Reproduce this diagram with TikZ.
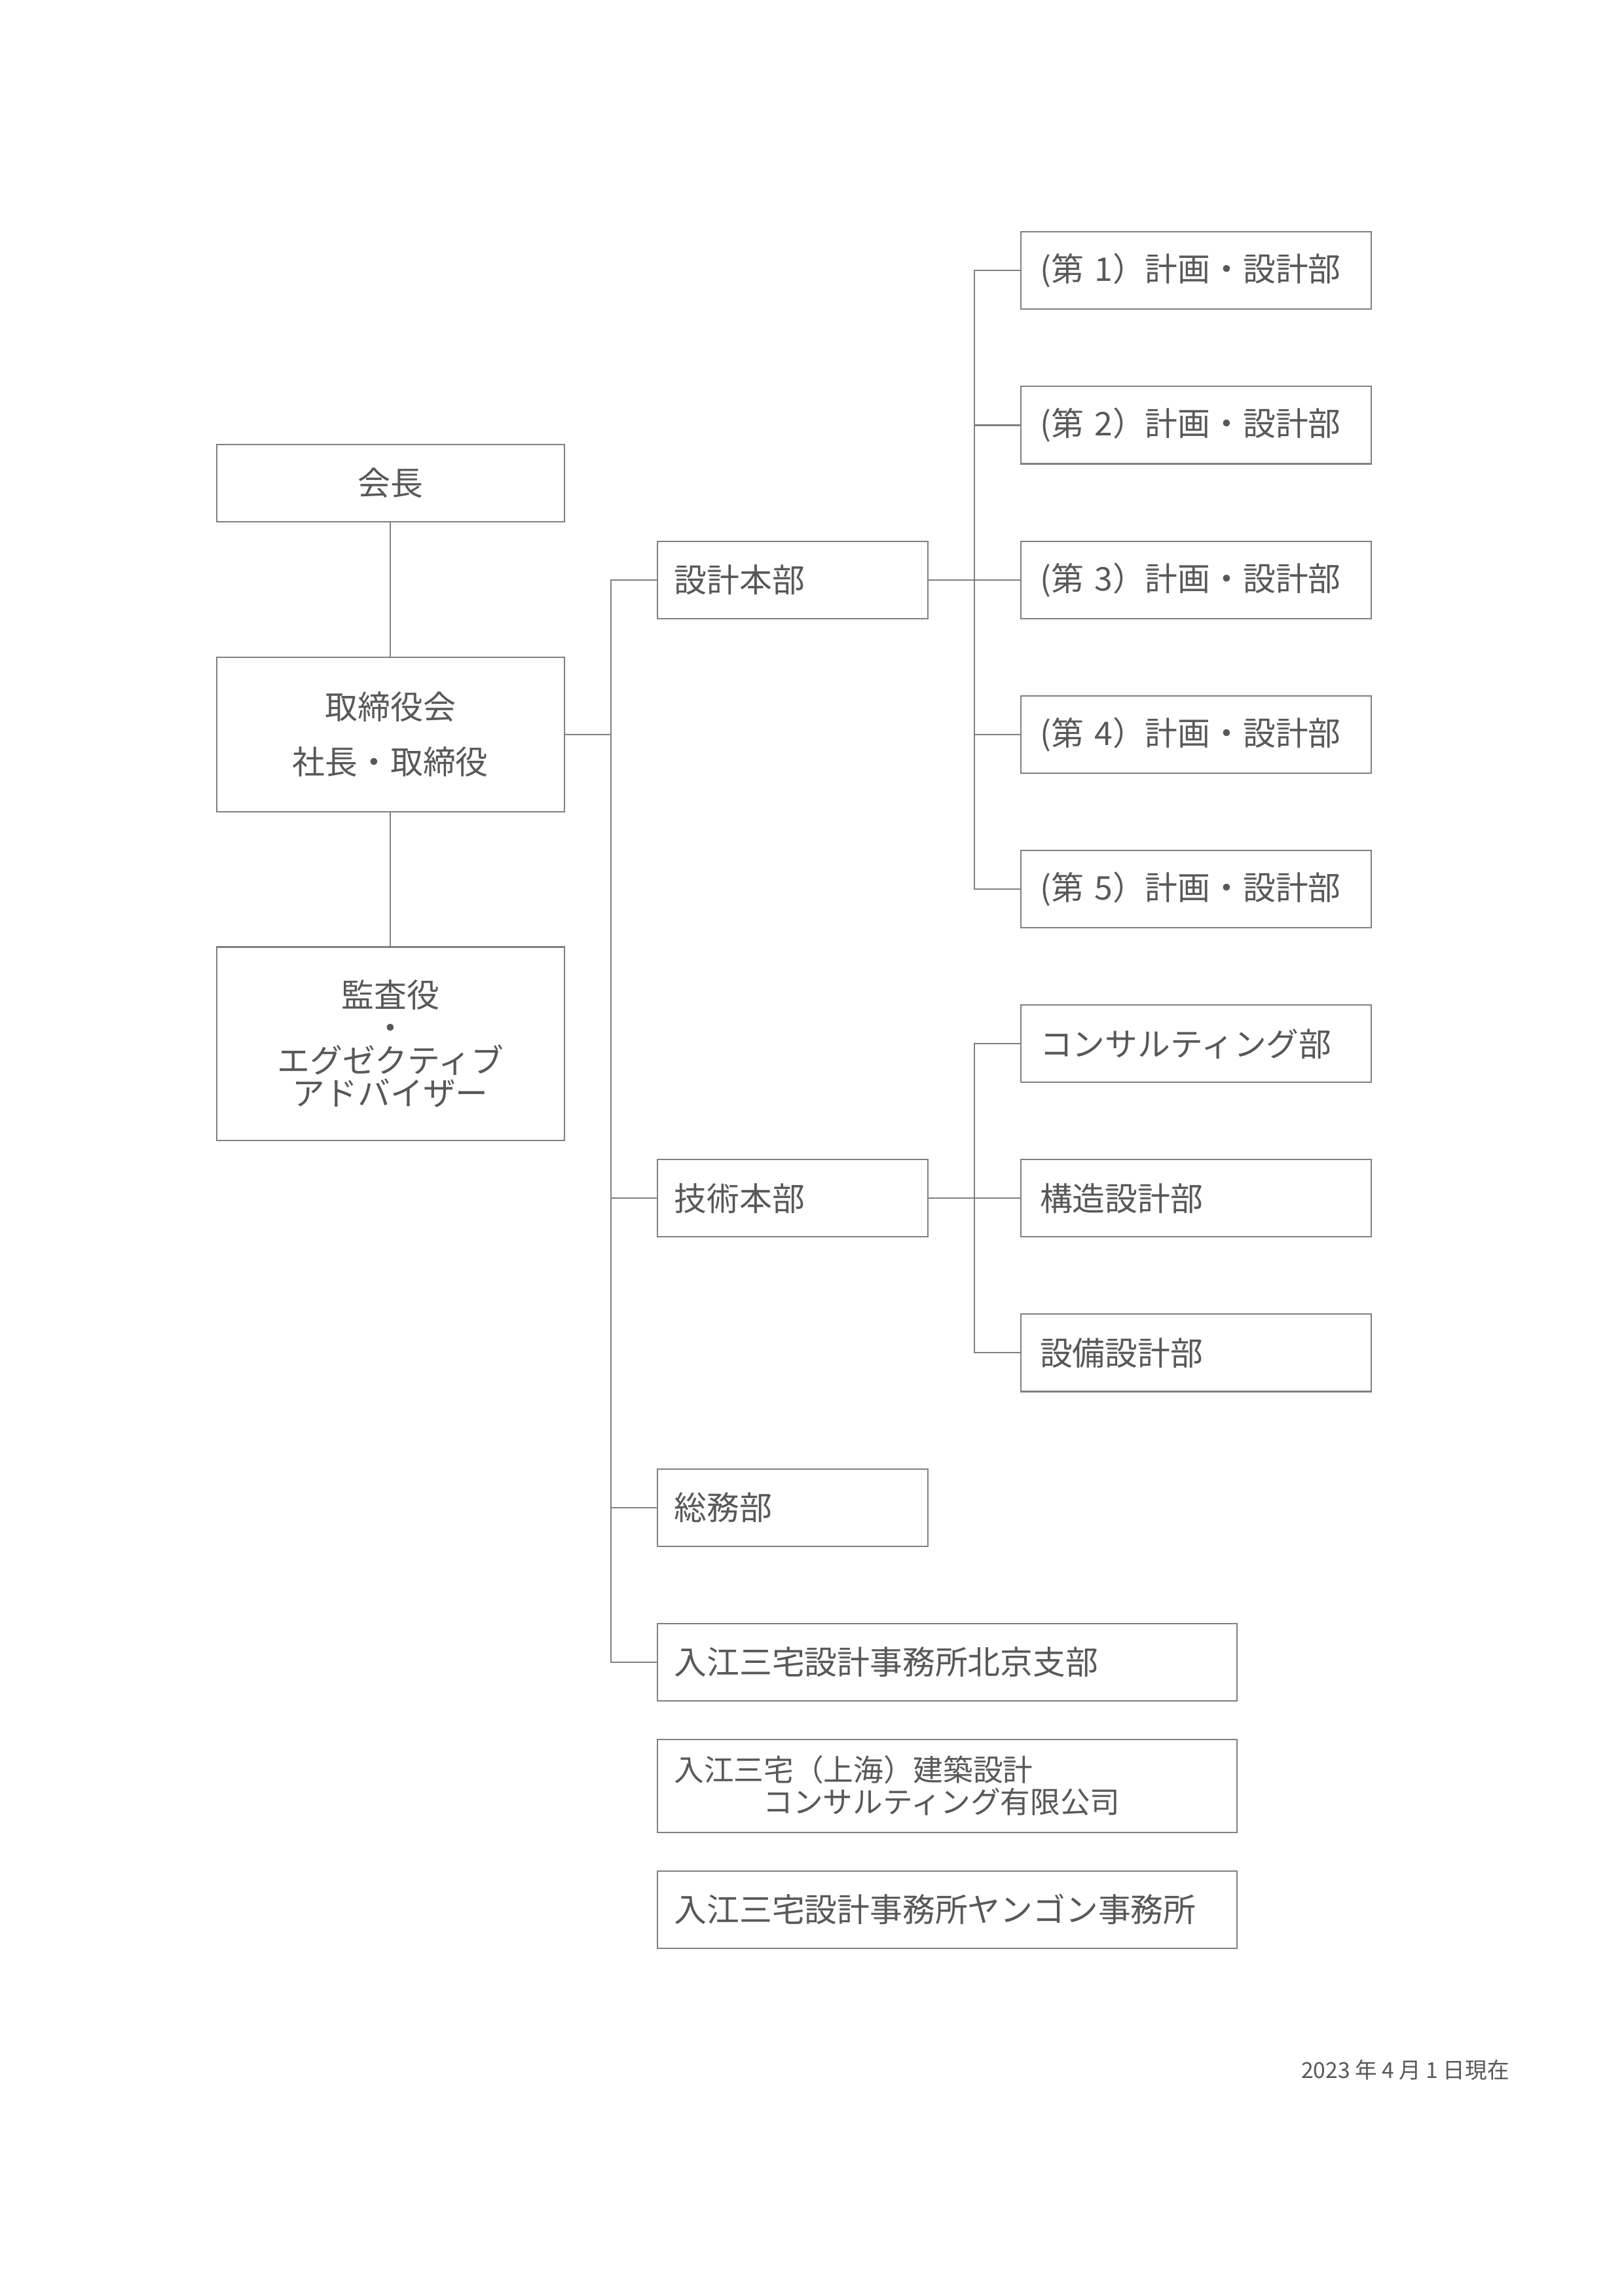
\documentclass[tikz,border=0pt]{standalone}
\usepackage{fontspec}
\setmainfont{Noto Sans CJK JP}
\definecolor{txt}{HTML}{595757}
\definecolor{ln}{HTML}{808080}
\begin{document}
\begin{tikzpicture}[x=1mm,y=-1mm,
  every node/.style={text=txt, font=\fontsize{12}{12}\selectfont},
  box/.style={draw=ln, line width=0.5pt, inner xsep=1.8mm, inner ysep=0pt, minimum height=10mm},
  lbox/.style={box, text width=41.4mm, align=center},
  mbox/.style={box, inner xsep=2.2mm, text width=30.6mm, align=left},
  wbox/.style={box, inner xsep=2.2mm, text width=70.6mm, align=left},
  rbox/.style={box, inner xsep=2.5mm, text width=40.3mm, align=left},
  conn/.style={draw=ln, line width=0.5pt}]
\useasboundingbox[fill=white] (0,0) rectangle (210,297);

% left column
\node[lbox] (kaicho) at (50.5,62.5) {会長};
\node[lbox, minimum height=20mm] (tori) at (50.5,95) {取締役会\\[8.4pt]社長・取締役};
\node[lbox, minimum height=25mm] (kansa) at (50.5,135) {監査役\\・\\エグゼクティブ\\アドバイザー};

% middle column
\node[mbox] (sekkei) at (102.5,75) {設計本部};
\node[mbox] (gijutsu) at (102.5,155) {技術本部};
\node[mbox] (somu) at (102.5,195) {総務部};
\node[wbox] (pek) at (122.5,215) {入江三宅設計事務所北京支部};
\node[wbox, minimum height=12mm, font=\fontsize{11}{11.8}\selectfont] (sha) at (122.5,231) {入江三宅（上海）建築設計\\\hspace*{11.5mm}コンサルティング有限公司};
\node[wbox] (yan) at (122.5,247) {入江三宅設計事務所ヤンゴン事務所};

% right column
\node[rbox] (d1) at (154.65,35) {(第 1）計画・設計部};
\node[rbox] (d2) at (154.65,55) {(第 2）計画・設計部};
\node[rbox] (d3) at (154.65,75) {(第 3）計画・設計部};
\node[rbox] (d4) at (154.65,95) {(第 4）計画・設計部};
\node[rbox] (d5) at (154.65,115) {(第 5）計画・設計部};
\node[rbox] (consul) at (154.65,135) {コンサルティング部};
\node[rbox] (kozo) at (154.65,155) {構造設計部};
\node[rbox] (setsubi) at (154.65,175) {設備設計部};

% date
\node[anchor=east, inner sep=0pt, font=\fontsize{8.1}{10}\selectfont] (date) at (195.25,267.8) {2023 年 4 月 1 日現在};

% trunks
\coordinate (tx) at (79,0);
\coordinate (sx) at (126,0);

\draw[conn] (kaicho.south) -- (tori.north);
\draw[conn] (tori.south) -- (kansa.north);
\draw[conn] (tori.east) -- (tori.east -| tx);
\draw[conn] (sekkei.west) -- (sekkei.west -| tx) |- (pek.west);
\draw[conn] (gijutsu.west) -- (gijutsu.west -| tx);
\draw[conn] (somu.west) -- (somu.west -| tx);

\draw[conn] (sekkei.east) -- (d3.west);
\draw[conn] (d1.west) -- (d1.west -| sx) |- (d5.west);
\draw[conn] (d2.west) -- (d2.west -| sx);
\draw[conn] (d4.west) -- (d4.west -| sx);

\draw[conn] (gijutsu.east) -- (kozo.west);
\draw[conn] (consul.west) -- (consul.west -| sx) |- (setsubi.west);
\end{tikzpicture}
\end{document}
